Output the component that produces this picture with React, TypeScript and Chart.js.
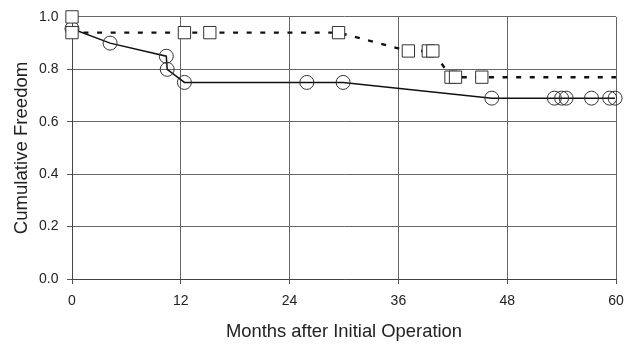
import React, { useEffect, useRef } from "react";
import { Chart, registerables } from "chart.js";

Chart.register(...registerables);

const monthTicks = [0, 12, 24, 36, 48, 60];
const freedomTicks = [0, 0.2, 0.4, 0.6, 0.8, 1.0];

// Solid line with open circles
const circleMonths = [0, 4.2, 10.4, 10.5, 12.4, 25.9, 29.9, 46.3, 53.2, 54.0, 54.5, 57.3, 59.3, 59.9];
const circleFreedom = [0.955, 0.9, 0.85, 0.8, 0.75, 0.75, 0.75, 0.69, 0.69, 0.69, 0.69, 0.69, 0.69, 0.69];

// Dashed line with open squares (last point is the line's end, no marker)
const squareMonths = [0, 0, 12.4, 15.2, 29.4, 37.1, 39.3, 39.8, 41.8, 42.3, 45.2, 60];
const squareFreedom = [1.0, 0.94, 0.94, 0.94, 0.94, 0.87, 0.87, 0.87, 0.77, 0.77, 0.77, 0.77];
const squareMarker = [1, 1, 1, 1, 1, 1, 1, 1, 1, 1, 1, 0];

const xTitle = "Months after Initial Operation";
const yTitle = "Cumulative Freedom";

const FONT = "'Liberation Sans', Arial, Helvetica, sans-serif";

export default function App() {
  const ref = useRef<HTMLCanvasElement | null>(null);

  useEffect(() => {
    document.body.style.margin = "0";
    const canvas = ref.current;
    if (!canvas) return;
    const chart = new Chart(canvas, {
      type: "scatter",
      data: {
        datasets: [
          {
            label: "squares",
            data: squareMonths.map((m, i) => ({ x: m, y: squareFreedom[i] })),
            showLine: true,
            borderColor: "#111",
            borderWidth: 2.4,
            borderDash: [5, 8.6],
            backgroundColor: "#ffffff",
            pointStyle: "rect",
            pointRadius: squareMarker.map((v) => (v ? 8.7 : 0)),
            pointBorderWidth: 1,
            pointBorderColor: "#333",
            pointBackgroundColor: "#ffffff",
            tension: 0,
            clip: false,
          },
          {
            label: "circles",
            data: circleMonths.map((m, i) => ({ x: m, y: circleFreedom[i] })),
            showLine: true,
            borderColor: "#111",
            borderWidth: 1.5,
            backgroundColor: "rgba(0,0,0,0)",
            pointStyle: "circle",
            pointRadius: 7,
            pointBorderWidth: 1,
            pointBorderColor: "#333",
            pointBackgroundColor: "rgba(0,0,0,0)",
            tension: 0,
            clip: false,
          },
        ],
      },
      options: {
        responsive: true,
        maintainAspectRatio: false,
        animation: false,
        events: [],
        layout: { padding: { left: 0, right: 19, top: 13, bottom: 0 } },
        plugins: {
          legend: { display: false },
          tooltip: { enabled: false },
        },
        scales: {
          x: {
            type: "linear",
            min: monthTicks[0],
            max: monthTicks[monthTicks.length - 1],
            afterBuildTicks: (s: any) => {
              s.ticks = monthTicks.map((v) => ({ value: v }));
            },
            afterFit: (s: any) => {
              s.height = 67;
            },
            ticks: {
              color: "#222",
              font: { family: FONT, size: 14 },
              padding: 9,
              maxRotation: 0,
              callback: (v: any) => String(v),
            },
            grid: { color: "#666", lineWidth: 1, tickLength: 5, tickColor: "#555" },
            border: { display: true, color: "#444", width: 1 },
            title: {
              display: true,
              text: xTitle,
              color: "#222",
              font: { family: FONT, size: 18.4 },
              padding: { top: 0, bottom: 3 },
            },
          },
          y: {
            type: "linear",
            min: freedomTicks[0],
            max: freedomTicks[freedomTicks.length - 1],
            afterBuildTicks: (s: any) => {
              s.ticks = freedomTicks.map((v) => ({ value: v }));
            },
            afterFit: (s: any) => {
              s.width = 72;
            },
            ticks: {
              color: "#222",
              font: { family: FONT, size: 14 },
              padding: 8.5,
              callback: (v: any) => Number(v).toFixed(1),
            },
            grid: { color: "#666", lineWidth: 1, tickLength: 5, tickColor: "#555" },
            border: { display: true, color: "#444", width: 1 },
            title: {
              display: true,
              text: yTitle,
              color: "#222",
              font: { family: FONT, size: 18.6 },
              padding: { top: 11, bottom: 0 },
            },
          },
        },
      },
    } as any);
    return () => chart.destroy();
  }, []);

  return (
    <div style={{ position: "absolute", left: 0, top: 0, width: 635, height: 346, background: "#fff" }}>
      <canvas ref={ref} />
    </div>
  );
}
